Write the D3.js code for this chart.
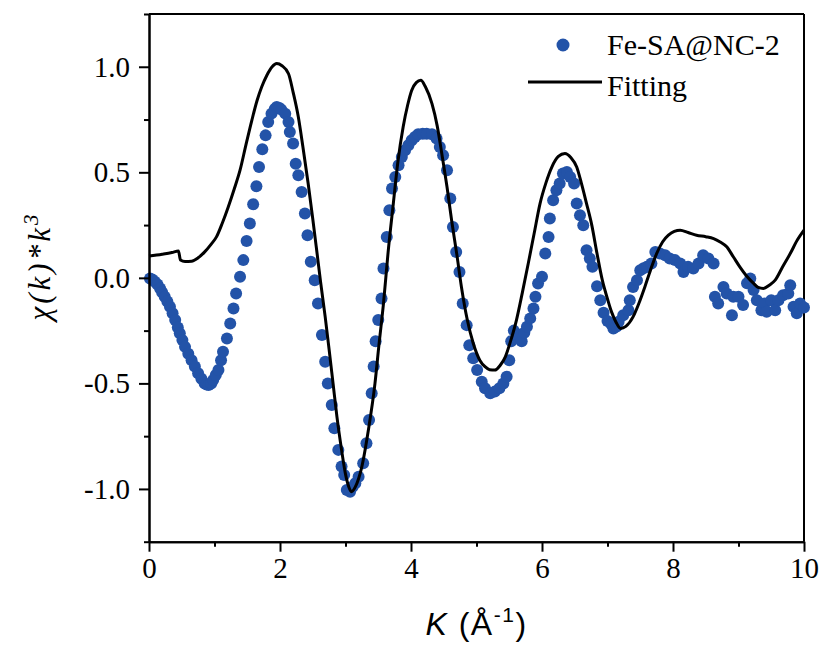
<!DOCTYPE html>
<html>
<head>
<meta charset="utf-8">
<script src="https://cdn.jsdelivr.net/npm/d3@7"></script>
<style>
  html, body { margin: 0; padding: 0; background: #fff; }
  svg { display: block; }
</style>
</head>
<body>
<svg id="chart" width="823" height="653"></svg>
<script>
// ---------- data ----------
const kData = [0.015,0.05,0.09,0.13,0.17,0.20,0.24,0.28,0.32,0.36,0.40,0.44,0.47,0.51,0.55,0.60,0.65,0.70,0.75,0.80,0.85,0.88,0.91,0.95,0.98,
  1.02,1.06,1.10,1.13,1.19,1.24,1.29,1.33,1.39,1.44,1.49,1.54,1.59,1.64,1.68,1.73,1.78,1.82,1.87,1.92,1.95,1.99,
  2.02,2.08,2.13,2.15,2.20,2.24,2.28,2.33,2.38,2.42,2.47,2.53,2.58,2.64,2.69,2.73,2.79,2.83,2.89,2.94,2.98,
  3.02,3.07,3.11,3.15,3.20,3.27,3.32,3.36,3.40,3.43,3.46,3.50,3.55,3.58,3.63,3.67,3.71,3.76,3.81,3.86,3.91,3.96,
  4.01,4.06,4.11,4.18,4.24,4.32,4.39,4.44,4.49,4.55,4.60,4.64,4.69,4.74,4.79,4.85,4.89,4.95,
  5.01,5.08,5.13,5.21,5.28,5.35,5.41,5.46,5.50,5.53,5.57,5.63,5.69,5.73,5.77,5.82,5.87,5.90,5.94,
  6.00,6.05,6.10,6.12,6.17,6.22,6.27,6.32,6.38,6.43,6.49,6.53,6.58,6.63,6.68,6.73,6.77,6.84,6.89,6.94,
  7.00,7.06,7.09,7.14,7.17,7.24,7.32,7.34,7.39,7.45,7.50,7.55,7.60,7.67,7.73,7.80,7.88,7.95,
  8.03,8.11,8.16,8.23,8.31,8.39,8.46,8.54,8.62,8.64,8.69,8.77,8.82,8.90,8.92,
  9.00,9.07,9.13,9.18,9.23,9.28,9.35,9.40,9.43,9.50,9.56,9.61,9.68,9.76,9.79,9.84,9.89,9.94,10.0];
const chiData = [-0.003,-0.008,-0.019,-0.032,-0.05,-0.068,-0.09,-0.112,-0.137,-0.168,-0.2,-0.235,-0.263,-0.295,-0.327,-0.36,-0.39,-0.42,-0.452,-0.478,-0.5,-0.505,-0.508,-0.5,-0.484,
  -0.46,-0.437,-0.39,-0.35,-0.287,-0.216,-0.145,-0.074,0.005,0.084,0.175,0.257,0.349,0.434,0.525,0.609,0.675,0.738,0.778,0.80,0.809,0.805,
  0.797,0.778,0.738,0.691,0.636,0.541,0.486,0.407,0.305,0.202,0.076,-0.011,-0.121,-0.271,-0.398,-0.5,-0.602,-0.713,-0.815,-0.894,-0.934,
  -1.005,-1.013,-0.99,-0.973,-0.942,-0.878,-0.784,-0.673,-0.547,-0.42,-0.30,-0.2,-0.098,0.044,0.194,0.32,0.423,0.478,0.533,0.573,0.604,0.628,
  0.652,0.667,0.68,0.683,0.683,0.68,0.66,0.62,0.581,0.51,0.376,0.241,0.123,0.028,-0.121,-0.224,-0.319,-0.381,
  -0.437,-0.492,-0.523,-0.547,-0.539,-0.523,-0.5,-0.468,-0.39,-0.30,-0.25,-0.27,-0.30,-0.26,-0.232,-0.192,-0.145,-0.09,-0.027,
  0.005,0.115,0.194,0.281,0.368,0.415,0.447,0.494,0.502,0.478,0.447,0.352,0.297,0.249,0.131,0.092,0.052,-0.04,-0.106,-0.165,
  -0.205,-0.22,-0.24,-0.23,-0.208,-0.177,-0.153,-0.106,-0.043,-0.011,0.036,0.045,0.052,0.068,0.123,0.115,0.107,0.092,
  0.084,0.068,0.028,0.052,0.044,0.068,0.107,0.092,0.068,-0.09,-0.121,-0.043,-0.074,-0.177,-0.09,
  -0.09,-0.129,-0.026,-0.003,-0.058,-0.106,-0.153,-0.121,-0.161,-0.106,-0.153,-0.106,-0.082,-0.074,-0.035,-0.137,-0.168,-0.121,-0.14];

const kFit = [0,0.2,0.35,0.45,0.48,0.55,0.65,0.75,0.85,0.95,1.03,1.12,1.21,1.30,1.39,1.48,1.57,1.65,1.72,1.80,1.88,1.95,2.03,2.13,2.20,2.28,2.35,2.43,2.50,2.56,2.62,2.69,2.75,2.81,2.87,2.94,3.00,3.05,3.09,3.15,3.25,3.35,3.45,3.51,3.58,3.65,3.73,3.80,3.88,3.95,4.01,4.08,4.15,4.22,4.32,4.40,4.47,4.55,4.62,4.70,4.77,4.86,4.95,5.05,5.13,5.20,5.28,5.36,5.44,5.52,5.61,5.70,5.79,5.88,5.97,6.06,6.15,6.25,6.35,6.44,6.53,6.60,6.68,6.76,6.84,6.92,7.00,7.06,7.13,7.20,7.28,7.39,7.48,7.57,7.66,7.75,7.84,7.93,8.02,8.11,8.23,8.36,8.50,8.62,8.72,8.82,8.92,9.02,9.12,9.23,9.30,9.38,9.47,9.56,9.67,9.79,9.90,10.0];
const chiFit = [0.103,0.112,0.12,0.127,0.085,0.078,0.079,0.095,0.123,0.16,0.194,0.26,0.336,0.42,0.51,0.63,0.746,0.84,0.904,0.96,1.0,1.015,1.005,0.967,0.88,0.762,0.62,0.447,0.28,0.131,-0.02,-0.185,-0.34,-0.50,-0.66,-0.815,-0.93,-0.99,-1.013,-0.99,-0.894,-0.72,-0.50,-0.32,-0.121,0.12,0.352,0.55,0.715,0.82,0.888,0.925,0.936,0.905,0.825,0.72,0.589,0.43,0.273,0.11,-0.043,-0.20,-0.31,-0.39,-0.421,-0.435,-0.437,-0.415,-0.374,-0.30,-0.2,-0.07,0.068,0.21,0.352,0.45,0.525,0.575,0.589,0.57,0.525,0.45,0.352,0.25,0.115,-0.01,-0.10,-0.16,-0.21,-0.24,-0.23,-0.185,-0.12,-0.043,0.04,0.115,0.17,0.202,0.22,0.226,0.215,0.202,0.195,0.186,0.17,0.147,0.10,0.052,0.01,-0.026,-0.045,-0.05,-0.035,-0.011,0.05,0.115,0.18,0.226];

const xMajorTicks = [0,2,4,6,8,10];
const xMinorTicks = [1,3,5,7,9];
const yMajorTicks = [-1.0,-0.5,0.0,0.5,1.0];
const yMinorTicks = [-1.25,-0.75,-0.25,0.25,0.75,1.25];
const seriesNames = ["Fe-SA@NC-2","Fitting"];

// ---------- drawing ----------
const svg = d3.select("#chart");
const L = 149, R = 804, T = 14, B = 541.7;
const x = d3.scaleLinear().domain([0,10]).range([L,R]);
const y = d3.scaleLinear().domain([-1.25,1.25]).range([B,T]);
const blue = "#2353a8";
const serif = "'Liberation Serif','Times New Roman',serif";
const fmt = v => d3.format(".1f")(v).replace("\u2212","-");

// frame (top and right)
svg.append("line").attr("x1",L).attr("x2",R).attr("y1",T).attr("y2",T).attr("stroke","#000").attr("stroke-width",2);
svg.append("line").attr("x1",R).attr("x2",R).attr("y1",T).attr("y2",B).attr("stroke","#000").attr("stroke-width",2);

// data points
const pts = kData.map((k,i)=>({k, v: chiData[i]}));
svg.append("g").selectAll("circle").data(pts).join("circle")
  .attr("cx", d=>x(d.k)).attr("cy", d=>y(d.v)).attr("r", 6)
  .attr("fill", blue);

// fit line
const fit = kFit.map((k,i)=>({k, v: chiFit[i]}));
svg.append("path").datum(fit)
  .attr("fill","none").attr("stroke","#000").attr("stroke-width",3).attr("stroke-linejoin","round")
  .attr("d", d3.line().x(d=>x(d.k)).y(d=>y(d.v)).curve(d3.curveMonotoneX));

// axes
function styleAxis(g){
  g.selectAll(".domain").attr("stroke","#000").attr("stroke-width",2);
  g.selectAll(".tick line").attr("stroke","#000").attr("stroke-width",2);
  g.selectAll("text").attr("font-family",serif).attr("font-size",29).attr("fill","#000");
}
const gx = svg.append("g").attr("transform",`translate(0,${B})`)
  .call(d3.axisBottom(x).tickValues(xMajorTicks).tickSize(10).tickSizeOuter(0).tickPadding(6).tickFormat(d3.format("d")));
styleAxis(gx);
const gx2 = svg.append("g").attr("transform",`translate(0,${B})`)
  .call(d3.axisBottom(x).tickValues(xMinorTicks).tickSize(5).tickSizeOuter(0).tickFormat(""));
styleAxis(gx2);

const gy = svg.append("g").attr("transform",`translate(${L},0)`)
  .call(d3.axisLeft(y).tickValues(yMajorTicks).tickSize(10).tickSizeOuter(0).tickPadding(9).tickFormat(fmt));
styleAxis(gy);
const gy2 = svg.append("g").attr("transform",`translate(${L},0)`)
  .call(d3.axisLeft(y).tickValues(yMinorTicks).tickSize(5).tickSizeOuter(0).tickFormat(""));
styleAxis(gy2);

// axis titles
const yt = svg.append("text").attr("transform","translate(50,266) rotate(-90)")
  .attr("text-anchor","middle").attr("font-family",serif).attr("font-size",31)
  .attr("font-style","italic").attr("letter-spacing",3).attr("fill","#000");
yt.append("tspan").text("\u03C7(k)*k");
yt.append("tspan").attr("dy",-12).attr("font-size",21).text("3");

const xt = svg.append("text").attr("x",(L+R)/2).attr("y",635)
  .attr("text-anchor","middle").attr("font-family","'Liberation Sans',Arial,sans-serif")
  .attr("font-size",32).attr("letter-spacing",1.5).attr("fill","#000");
xt.append("tspan").attr("font-style","italic").text("K");
xt.append("tspan").text(" (\u00C5");
xt.append("tspan").attr("dy",-13).attr("font-size",21).text("-1");
xt.append("tspan").attr("dy",13).text(")");

// legend
const lg = svg.append("g");
lg.append("circle").attr("cx",563).attr("cy",45).attr("r",6.5).attr("fill",blue);
lg.append("text").attr("x",607).attr("y",55).attr("font-family",serif).attr("font-size",30).attr("fill","#000").text(seriesNames[0]);
lg.append("line").attr("x1",528).attr("x2",602).attr("y1",82).attr("y2",82).attr("stroke","#000").attr("stroke-width",3);
lg.append("text").attr("x",607).attr("y",96).attr("font-family",serif).attr("font-size",30).attr("fill","#000").text(seriesNames[1]);
</script>
</body>
</html>
